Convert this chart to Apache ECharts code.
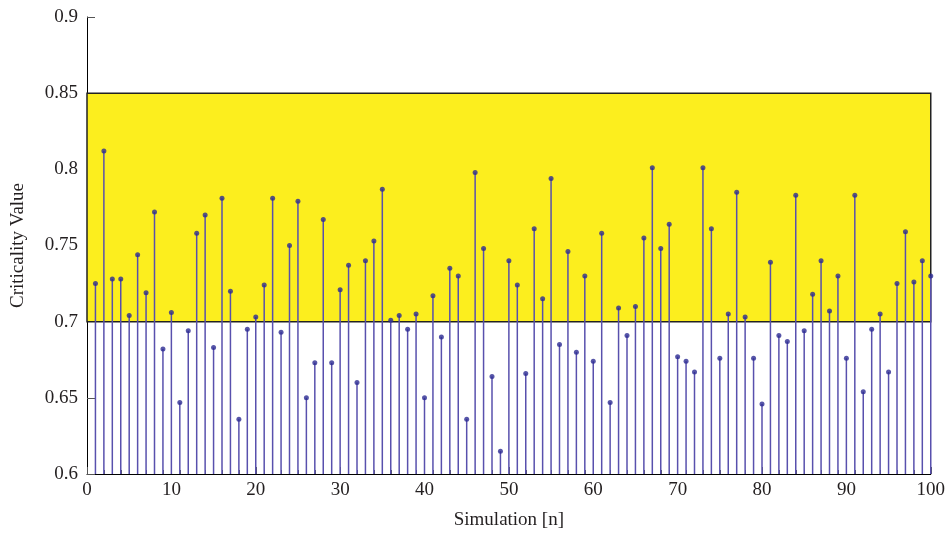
<!DOCTYPE html>
<html>
<head>
<meta charset="utf-8">
<script src="https://cdn.jsdelivr.net/npm/echarts@6/dist/echarts.min.js"></script>
<style>
  html, body { margin: 0; padding: 0; background: #fff; }
  #chart { width: 948px; height: 535px; }
</style>
</head>
<body>
<div id="chart"></div>
<script>
// criticality value per simulation run (1..100)
const criticality = [
  0.725, 0.812, 0.728, 0.728, 0.704, 0.744, 0.719, 0.772, 0.682, 0.706,
  0.647, 0.694, 0.758, 0.770, 0.683, 0.781, 0.720, 0.636, 0.695, 0.703,
  0.724, 0.781, 0.693, 0.750, 0.779, 0.650, 0.673, 0.767, 0.673, 0.721,
  0.737, 0.660, 0.740, 0.753, 0.787, 0.701, 0.704, 0.695, 0.705, 0.650,
  0.717, 0.690, 0.735, 0.730, 0.636, 0.798, 0.748, 0.664, 0.615, 0.740,
  0.724, 0.666, 0.761, 0.715, 0.794, 0.685, 0.746, 0.680, 0.730, 0.674,
  0.758, 0.647, 0.709, 0.691, 0.710, 0.755, 0.801, 0.748, 0.764, 0.677,
  0.674, 0.667, 0.801, 0.761, 0.676, 0.705, 0.785, 0.703, 0.676, 0.646,
  0.739, 0.691, 0.687, 0.783, 0.694, 0.718, 0.740, 0.707, 0.730, 0.676,
  0.783, 0.654, 0.695, 0.705, 0.667, 0.725, 0.759, 0.726, 0.740, 0.730
];
// acceptable band drawn in yellow
const bandLow = 0.7;
const bandHigh = 0.85;
const xRange = [0, 100];
const yRange = [0.6, 0.9];

const points = criticality.map((v, i) => [i + 1, v]);

const chart = echarts.init(document.getElementById("chart"));
const font = "'Liberation Serif', 'DejaVu Serif', serif";
const ink = "#231f20";

chart.setOption({
  animation: false,
  grid: { left: 87, right: 16, top: 17, bottom: 60 },
  xAxis: {
    type: "value",
    min: xRange[0],
    max: xRange[1],
    interval: 10,
    name: "Simulation [n]",
    nameLocation: "middle",
    nameGap: 37,
    nameTextStyle: { fontFamily: font, fontSize: 19, color: ink },
    axisLine: { lineStyle: { color: "#000", width: 1 } },
    axisTick: { inside: true, length: 7, lineStyle: { color: "#555" } },
    minorTick: { show: true, splitNumber: 10, length: 4, lineStyle: { color: "#555" } },
    axisLabel: { fontFamily: font, fontSize: 19, color: ink, margin: 7 },
    splitLine: { show: false }
  },
  yAxis: {
    type: "value",
    min: yRange[0],
    max: yRange[1],
    interval: 0.05,
    name: "Criticality Value",
    nameLocation: "middle",
    nameGap: 59,
    nameTextStyle: { fontFamily: font, fontSize: 19, color: ink },
    axisLine: { lineStyle: { color: "#000", width: 1 } },
    axisTick: { inside: true, length: 8, lineStyle: { color: "#555" } },
    axisLabel: {
      fontFamily: font, fontSize: 19, color: ink, margin: 9,
      formatter: (v) => String(+v.toFixed(2))
    },
    splitLine: { show: false }
  },
  series: [
    {
      type: "line",
      data: [],
      z: 1,
      markArea: {
        silent: true,
        itemStyle: { color: "#fcee1e", borderColor: "#222", borderWidth: 1.5 },
        data: [[{ xAxis: xRange[0], yAxis: bandLow }, { xAxis: xRange[1], yAxis: bandHigh }]]
      }
    },
    {
      type: "custom",
      z: 3,
      data: points,
      renderItem: (params, api) => {
        const top = api.coord([api.value(0), api.value(1)]);
        const base = api.coord([api.value(0), yRange[0]]);
        return {
          type: "line",
          shape: { x1: top[0], y1: top[1], x2: base[0], y2: base[1] },
          style: { stroke: "#5850ad", lineWidth: 1.5 }
        };
      }
    },
    {
      type: "scatter",
      z: 4,
      data: points,
      symbol: "circle",
      symbolSize: 5,
      itemStyle: { color: "#2c2a92" }
    }
  ]
});
</script>
</body>
</html>
